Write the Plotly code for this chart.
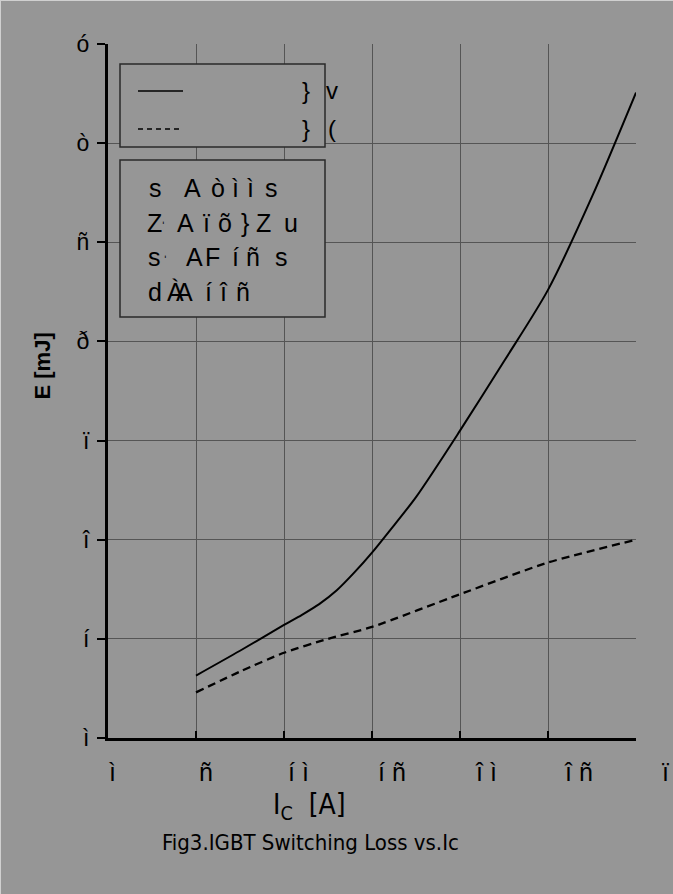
import plotly.graph_objects as go

# ---- data ----
ic_solid = [5, 7.5, 10, 11, 12, 13, 14, 15, 16, 17.5, 20, 22.5, 25, 27.5, 30]
e_solid = [0.63, 0.88, 1.14, 1.24, 1.35, 1.49, 1.67, 1.87, 2.09, 2.43, 3.10, 3.80, 4.52, 5.46, 6.51]

ic_dashed = [5, 7.5, 10, 12.5, 15, 20, 25, 30]
e_dashed = [0.46, 0.67, 0.86, 1.00, 1.12, 1.45, 1.77, 2.00]

x_tick_vals = [0, 5, 10, 15, 20, 25, 30]
x_tick_text = ["ì", "ñ", "í ì", "í ñ", "î ì", "î ñ", "ï ì"]
y_tick_vals = [0, 1, 2, 3, 4, 5, 6, 7]
y_tick_text = ["ì", "í", "î", "ï", "ð", "ñ", "ò", "ó"]

legend_marks = [("}", "v"), ("}", "(")]
info_chars = [
    ["s", "A", "ò", "ì", "ì", "s"],
    ["Z", "ˈ", "A", "ï", "õ", "}", "Z", "u"],
    ["s", "ˈ", "A", "F", "í", "ñ", "s"],
    ["d", "À", "A", "í", "î", "ñ"],
]

y_title = "E [mJ]"
x_title = "I<sub>C</sub>  [A]"
caption = "Fig3.IGBT Switching Loss vs.Ic"

# ---- styling / layout ----
BG = "#969696"
GRID = "#555555"
FONT = "Liberation Sans, Arial, sans-serif"
NARROW = "Liberation Sans Narrow, DejaVu Sans Condensed, Arial Narrow, sans-serif"

W, H = 673, 894
L, R, T, B = 108, 37, 44, 156
PW, PH = W - L - R, H - T - B

# horizontal centres (px) of glyphs in the info box, one row per line
info_centres = [
    [155, 192.5, 217.5, 235, 250, 271.5],
    [154, 163, 185, 206.5, 225, 245, 263.5, 291],
    [154, 165, 194, 212, 235, 252.5, 281.5],
    [155, 175, 184, 208.5, 223, 242.5],
]
info_rows_y = [188, 223, 257, 292]


def px(xp):
    return (xp - L) / PW


def py(yp):
    return (H - B - yp) / PH


fig = go.Figure()
fig.add_trace(go.Scatter(x=ic_solid, y=e_solid, mode="lines",
                         line=dict(color="black", width=2, shape="spline", smoothing=0.8),
                         showlegend=False, hoverinfo="skip"))
fig.add_trace(go.Scatter(x=ic_dashed, y=e_dashed, mode="lines",
                         line=dict(color="black", width=2.3, dash="8px,5px", shape="spline", smoothing=0.6),
                         showlegend=False, hoverinfo="skip"))

shapes = []
annotations = []

# legend boxes
for top, bot in [(64, 147), (160, 317)]:
    shapes.append(dict(type="rect", xref="paper", yref="paper",
                       x0=px(120), x1=px(325), y0=py(bot), y1=py(top),
                       line=dict(color="#2a2a2a", width=1.5), fillcolor=BG, layer="above"))
shapes.append(dict(type="line", xref="paper", yref="paper",
                   x0=px(138), x1=px(183), y0=py(91), y1=py(91),
                   line=dict(color="black", width=1.3), layer="above"))
shapes.append(dict(type="line", xref="paper", yref="paper",
                   x0=px(138), x1=px(182), y0=py(129), y1=py(129),
                   line=dict(color="black", width=1.3, dash="5px,4px"), layer="above"))

for i, (a, b) in enumerate(legend_marks):
    yy = py(91 + 37 * i)
    annotations.append(dict(xref="paper", yref="paper", x=px(306), y=yy,
                            xanchor="center", yanchor="middle", showarrow=False,
                            text=a, font=dict(family=FONT, size=24, color="black")))
    annotations.append(dict(xref="paper", yref="paper", x=px(332), y=yy,
                            xanchor="center", yanchor="middle", showarrow=False,
                            text=b, font=dict(family=FONT, size=24, color="black")))

for chars, centres, yrow in zip(info_chars, info_centres, info_rows_y):
    for ch, cx in zip(chars, centres):
        small = ch == "ˈ"
        annotations.append(dict(xref="paper", yref="paper", x=px(cx), y=py(yrow + (4 if small else 0)),
                                xanchor="center", yanchor="middle", showarrow=False,
                                text=ch, font=dict(family=FONT, size=14 if small else 25, color="black")))

# x tick labels (spread slightly wider than the ticks, as in the reference)
for v, t in zip(x_tick_vals, x_tick_text):
    annotations.append(dict(xref="paper", yref="paper", x=(v * 1.06 + 0.25) / 30, y=py(772),
                            xanchor="center", yanchor="middle", showarrow=False,
                            text=t, font=dict(family=FONT, size=25, color="black")))

annotations.append(dict(xref="paper", yref="paper", x=px(27), y=py(366), textangle=-90,
                        showarrow=False, text="<b>" + y_title + "</b>",
                        font=dict(family=FONT, size=22, color="black")))
annotations.append(dict(xref="paper", yref="paper", x=px(309), y=py(827),
                        showarrow=False, text=x_title,
                        font=dict(family=NARROW, size=28, color="black")))
annotations.append(dict(xref="paper", yref="paper", x=px(310), y=py(857),
                        showarrow=False, text=caption,
                        font=dict(family=NARROW, size=22, color="black")))

# light frame edge top/left
shapes.append(dict(type="line", xref="paper", yref="paper", x0=px(0), x1=px(673),
                   y0=py(0.5), y1=py(0.5), line=dict(color="#d0d0d0", width=1)))
shapes.append(dict(type="line", xref="paper", yref="paper", x0=px(0.5), x1=px(0.5),
                   y0=py(0), y1=py(894), line=dict(color="#d0d0d0", width=1)))

fig.update_layout(
    width=W, height=H,
    margin=dict(l=L, r=R, t=T, b=B, pad=0),
    paper_bgcolor=BG, plot_bgcolor=BG,
    shapes=shapes, annotations=annotations,
    showlegend=False,
)
fig.update_xaxes(range=[0, 30], tickvals=x_tick_vals, showticklabels=False,
                 showgrid=True, gridcolor=GRID, gridwidth=1,
                 showline=True, linecolor="black", linewidth=3,
                 ticks="inside", ticklen=7, tickcolor="black", tickwidth=2,
                 zeroline=False, fixedrange=True)
fig.update_yaxes(range=[0, 7], tickvals=y_tick_vals, ticktext=y_tick_text,
                 showgrid=True, gridcolor=GRID, gridwidth=1,
                 showline=True, linecolor="black", linewidth=3,
                 ticks="outside", ticklen=8, tickcolor="black", tickwidth=2,
                 ticklabelstandoff=3,
                 tickfont=dict(family=FONT, size=23, color="black"),
                 zeroline=False, fixedrange=True)

fig.write_html("out.html", config={"displayModeBar": False},
               post_script="document.body.style.margin='0';document.body.style.overflow='hidden';")
